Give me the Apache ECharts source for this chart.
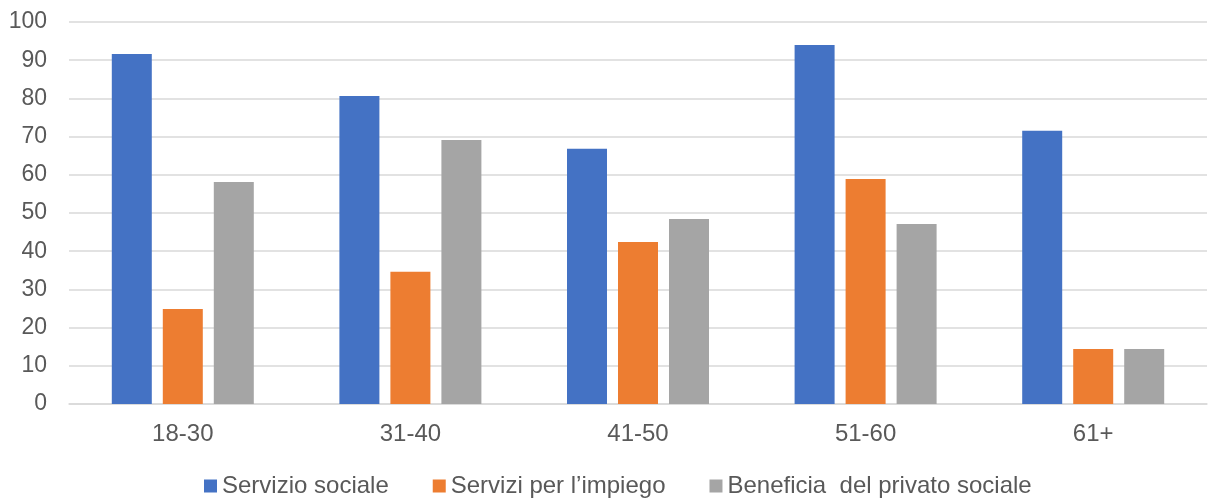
<!DOCTYPE html>
<html><head><meta charset="utf-8">
<script src="https://cdn.jsdelivr.net/npm/echarts@6/dist/echarts.min.js"></script>
<style>html,body{margin:0;padding:0;background:#fff}#c{width:1208px;height:502px}</style>
</head><body><div id="c"></div>
<script>
const categories = ['18-30','31-40','41-50','51-60','61+'];
const seriesNames = ['Servizio sociale','Servizi per l\u2019impiego','Beneficia  del privato sociale'];
const servizioSociale = [91.6, 80.6, 66.8, 94.0, 71.5];
const serviziImpiego = [24.9, 34.6, 42.4, 58.9, 14.4];
const privatoSociale = [58.1, 69.1, 48.4, 47.1, 14.4];
const colors = ['#4472C4','#ED7D31','#A5A5A5'];
const font = 'Liberation Sans, Arial, sans-serif';
const chart = echarts.init(document.getElementById('c'));
const vals = [servizioSociale, serviziImpiego, privatoSociale];
chart.setOption({
  animation:false,
  color: colors,
  grid:{left:69,right:1,top:22,bottom:98},
  legend:{top:469,left:199,itemWidth:13,itemHeight:13,itemGap:44,icon:'rect',
    textStyle:{color:'#595959',fontSize:24,fontFamily:font},
    data: seriesNames},
  xAxis:{type:'category',data:categories,
    axisLine:{lineStyle:{color:'#D9D9D9',width:1.5}},axisTick:{show:false},
    axisLabel:{color:'#595959',fontSize:24,fontFamily:font,margin:18}},
  yAxis:{type:'value',min:0,max:100,interval:10,
    axisLine:{show:false},axisTick:{show:false},
    splitLine:{lineStyle:{color:'#D9D9D9',width:1.5}},
    axisLabel:{color:'#595959',fontSize:23,fontFamily:font,margin:22}},
  series: seriesNames.map((n,i)=>({name:n,type:'bar',data:vals[i],barWidth:40,barGap:'27.5%'}))
});
</script></body></html>
